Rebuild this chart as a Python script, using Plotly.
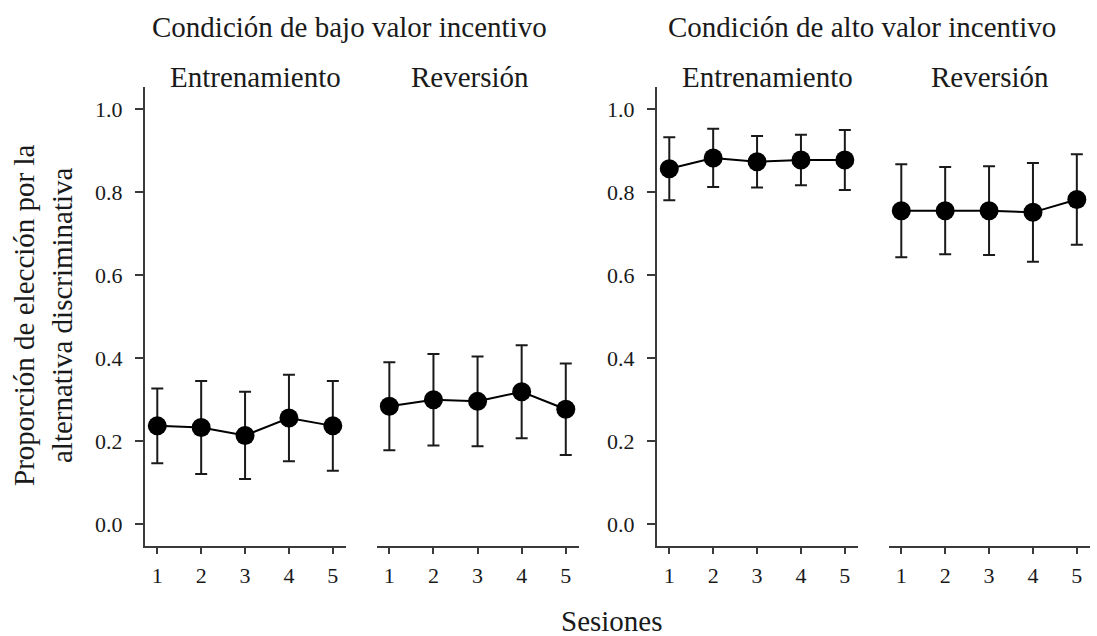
import plotly.graph_objects as go

# Sessions and panel labels
sessions = [1, 2, 3, 4, 5]
conditions = ["Condición de bajo valor incentivo", "Condición de alto valor incentivo"]
phases = ["Entrenamiento", "Reversión"]
y_ticks = [0.0, 0.2, 0.4, 0.6, 0.8, 1.0]

# Mean proportion of choice for the discriminative alternative, with error
bajo_entrenamiento = [0.237, 0.233, 0.214, 0.256, 0.237]
bajo_entrenamiento_err = [0.090, 0.112, 0.105, 0.104, 0.108]
bajo_reversion = [0.284, 0.300, 0.296, 0.319, 0.277]
bajo_reversion_err = [0.106, 0.110, 0.108, 0.112, 0.110]
alto_entrenamiento = [0.856, 0.882, 0.873, 0.877, 0.877]
alto_entrenamiento_err = [0.076, 0.070, 0.062, 0.061, 0.072]
alto_reversion = [0.755, 0.755, 0.755, 0.751, 0.782]
alto_reversion_err = [0.112, 0.105, 0.107, 0.119, 0.109]

W, H = 1097, 636
FONT = "Times New Roman, Liberation Serif, DejaVu Serif, serif"
INK = "#1a1a1a"
AXIS = "#3a3a3a"

panels = [
    (bajo_entrenamiento, bajo_entrenamiento_err, (145, 346), True),
    (bajo_reversion, bajo_reversion_err, (377, 579), False),
    (alto_entrenamiento, alto_entrenamiento_err, (657, 858), True),
    (alto_reversion, alto_reversion_err, (889, 1090), False),
]
y_dom = [1 - 545.7 / H, 1 - 87.3 / H]

fig = go.Figure()
layout = {}
for i, (vals, errs, (x0, x1), show_y) in enumerate(panels, start=1):
    xa = "x" if i == 1 else f"x{i}"
    ya = "y" if i == 1 else f"y{i}"
    fig.add_trace(go.Scatter(
        x=sessions, y=vals, xaxis=xa, yaxis=ya, mode="lines+markers",
        line=dict(color="black", width=2),
        marker=dict(color="black", size=19),
        error_y=dict(type="data", array=errs, visible=True,
                     color=INK, thickness=2, width=6),
        showlegend=False, hoverinfo="skip",
    ))
    layout["xaxis" if i == 1 else f"xaxis{i}"] = dict(
        domain=[x0 / W, x1 / W], anchor=ya, range=[0.72, 5.3],
        tickmode="array", tickvals=sessions, ticks="outside", ticklen=6,
        tickwidth=1.5, tickcolor=AXIS, showline=True, linecolor=AXIS,
        linewidth=2, showgrid=False, zeroline=False, ticklabelstandoff=3,
        tickfont=dict(family=FONT, size=22, color=INK),
    )
    layout["yaxis" if i == 1 else f"yaxis{i}"] = dict(
        domain=y_dom, anchor=xa, range=[-0.0515, 1.052],
        tickmode="array", tickvals=y_ticks if show_y else [],
        tickformat=".1f", ticks="outside" if show_y else "", ticklen=8,
        tickwidth=1.5, tickcolor=AXIS, showline=show_y, linecolor=AXIS,
        linewidth=2, showgrid=False, zeroline=False, showticklabels=show_y,
        ticklabelstandoff=8,
        tickfont=dict(family=FONT, size=22, color=INK),
    )

annotations = []
for cond, cx in zip(conditions, [349, 862]):
    annotations.append(dict(text=cond, x=cx / W, y=1 - 27 / H, xref="paper", yref="paper",
                            showarrow=False, xanchor="center", yanchor="middle",
                            font=dict(family=FONT, size=29, color=INK)))
for ph, cx in zip(phases * 2, [255, 470, 767, 990]):
    annotations.append(dict(text=ph, x=cx / W, y=1 - 77 / H, xref="paper", yref="paper",
                            showarrow=False, xanchor="center", yanchor="middle",
                            font=dict(family=FONT, size=29, color=INK)))
annotations.append(dict(text="Sesiones", x=612 / W, y=1 - 621 / H, xref="paper", yref="paper",
                        showarrow=False, xanchor="center", yanchor="middle",
                        font=dict(family=FONT, size=29, color=INK)))
annotations.append(dict(text="Proporción de elección por la<br>alternativa discriminativa",
                        x=43 / W, y=1 - 315 / H, xref="paper", yref="paper",
                        showarrow=False, xanchor="center", yanchor="middle", textangle=-90,
                        font=dict(family=FONT, size=29, color=INK)))

fig.update_layout(
    width=W, height=H, margin=dict(l=0, r=0, t=0, b=0),
    paper_bgcolor="white", plot_bgcolor="white",
    annotations=annotations, **layout,
)
fig.write_html("out.html")
